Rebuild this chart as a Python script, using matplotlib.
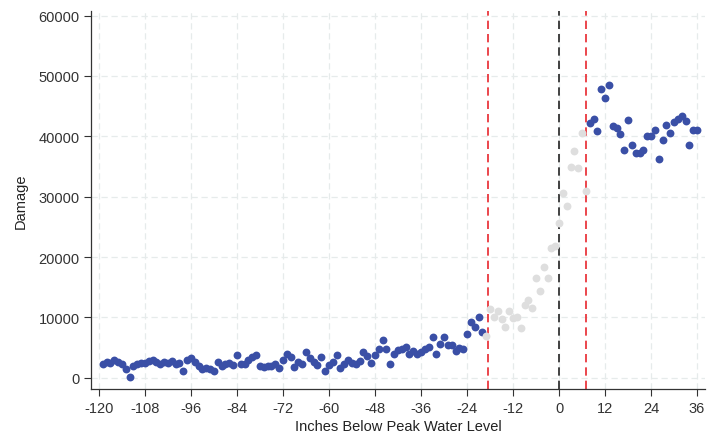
import numpy as np
import matplotlib.pyplot as plt

plt.rcParams['font.family'] = ['Liberation Sans', 'DejaVu Sans']
plt.rcParams['axes.unicode_minus'] = False

# inches relative to peak water level, one bin per inch
inches = list(range(-119, 37))

# average damage per bin
damage = [
    # -119 .. -89
    2300, 2600, 2500, 2900, 2600, 2200, 1500, 100, 2000, 2200,
    2400, 2500, 2700, 2900, 2600, 2300, 2600, 2500, 2700, 2200,
    2500, 1200, 2900, 3300, 2600, 2000, 1500, 1600, 1400, 1100,
    2600,
    # -88 .. -54
    2000, 2200, 2400, 2100, 3700, 2200, 2300, 3000, 3500, 3700,
    1900, 1800, 1900, 2000, 2200, 1600, 2900, 4000, 3400, 1800,
    2600, 2300, 4300, 3200, 2600, 2100, 3400, 1200, 2100, 2600,
    3700, 1600, 2200, 2900, 2500,
    # -53 .. -20
    2300, 2800, 4300, 3600, 2400, 3700, 4800, 6200, 4800, 2300,
    4000, 4600, 4800, 5100, 4000, 4500, 4000, 4300, 4800, 5100,
    6800, 4000, 5600, 6800, 5400, 5400, 4500, 5000, 4700, 7300,
    9300, 8400, 10100, 7600,
    # -19 .. 7
    7000, 11400, 10100, 11000, 9800, 8400, 11000, 9900, 10100, 8300,
    12000, 12900, 11500, 16500, 14400, 18400, 16600, 21500, 21800, 25600,
    30600, 28400, 34900, 37500, 34700, 40500, 30900,
    # 8 .. 36
    42200, 42900, 40800, 47800, 46400, 48500, 41700, 41400, 40300, 37700,
    42700, 38500, 37300, 37200, 37800, 40000, 40000, 41100, 36200, 39300,
    41800, 40600, 42300, 42900, 43300, 42600, 38500, 41000, 41000,
]

window_lo, window_hi = -19, 7
cutoffs = [-18.5, 7]

x = np.array(inches)
y = np.array(damage)
inside = (x >= window_lo) & (x <= window_hi)

fig = plt.figure(figsize=(7.21, 4.39), dpi=100)
ax = fig.add_axes([0.126, 0.112, 0.852, 0.86])

ax.scatter(x[~inside], y[~inside], s=32, color='#3a4fa6', zorder=3, linewidths=0)
ax.scatter(x[inside], y[inside], s=32, color='#dedede', zorder=3, linewidths=0)

for c in cutoffs:
    ax.axvline(c, color='#e8262e', lw=1.2, ls=(0, (5, 3)), zorder=2)
ax.axvline(0, color='#222222', lw=1.2, ls=(0, (5, 3)), zorder=2)

ax.set_xlim(-122.1, 38.1)
ax.set_ylim(-1830, 60700)
ax.set_xticks(range(-120, 37, 12))
ax.set_yticks(range(0, 60001, 10000))
ax.grid(True, color='#e6ebeb', ls=(0, (5, 3)), lw=0.9, zorder=0)

for side in ['top', 'right']:
    ax.spines[side].set_visible(False)
for side in ['left', 'bottom']:
    ax.spines[side].set_color('#333333')
    ax.spines[side].set_linewidth(0.9)
ax.tick_params(colors='#333333', labelsize=10.5, length=5, width=0.8)
ax.tick_params(axis='y', pad=3)

ax.set_xlabel('Inches Below Peak Water Level', fontsize=10.5, color='#222222', labelpad=3)
ax.set_ylabel('Damage', fontsize=10.5, color='#222222', labelpad=8)

fig.savefig('out.png', dpi=100)
